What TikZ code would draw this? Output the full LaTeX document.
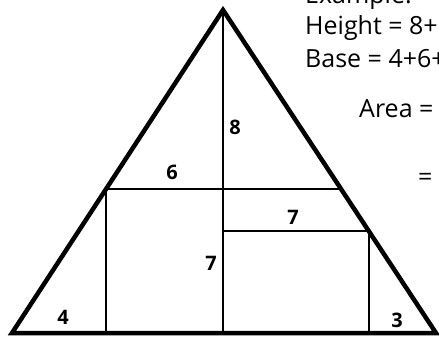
\documentclass[tikz,border=0pt]{standalone}
\usepackage{fontspec}
\setmainfont{Open Sans}
\usetikzlibrary{positioning,calc}

\begin{document}
\begin{tikzpicture}[x=1pt,y=-1pt,
  edge/.style={line width=4.5pt,line join=miter},
  part/.style={line width=1.8pt},
  len/.style={font=\fontsize{20}{20}\selectfont\bfseries,inner sep=0pt},
  txt/.style={font=\fontsize{25}{25}\selectfont,anchor=base west,inner sep=0pt}]
\useasboundingbox (0,0) rectangle (439,337);
\clip (0,0) rectangle (439,337);
% corners
\coordinate (top) at (223,10);
\coordinate (bl) at (12,333);
\coordinate (br) at (436,333);
% cuts
\coordinate (l1) at (106,189);
\coordinate (r1) at (341,189);
\coordinate (m2) at (223,231);
\coordinate (r2) at (369,231);
\coordinate (lb) at (106,333);
\coordinate (mb) at (223,333);
\coordinate (rb) at (369,333);
\draw[part] (top) -- (mb);
\draw[part] (l1) -- (r1);
\draw[part] (l1) -- (lb);
\draw[part] (m2) -- (r2);
\draw[part] (r2) -- (rb);
\draw[edge] (top) -- (bl) -- (br) -- cycle;
% lengths
\node[len] (h8) at (235,127) {8};
\node[len] (w6) at (172,172) {6};
\node[len] (w7) at (293,217) {7};
\node[len] (h7) at (211,263) {7};
\node[len] (w4) at (63,317) {4};
\node[len] (w3) at (397,320) {3};
% working
\node[txt] (ex) at (305,4) {Example:};
\node[txt] (ht) at (305,35) {Height = 8+};
\node[txt] (bs) at (305,67) {Base = 4+6+};
\node[txt] (ar) at (359,117) {Area =};
\node[txt] (eq) at (418,185) {=};
\end{tikzpicture}
\end{document}
